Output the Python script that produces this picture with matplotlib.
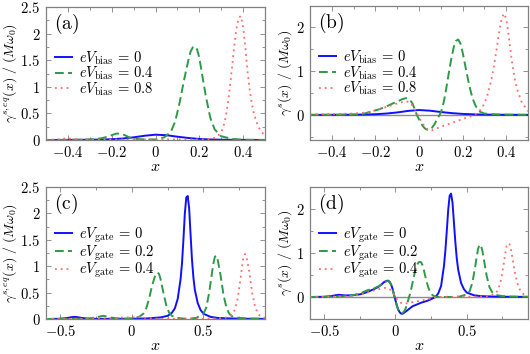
import matplotlib
matplotlib.use("Agg")
import matplotlib.pyplot as plt
from matplotlib.ticker import MultipleLocator, FuncFormatter

plt.rcParams['mathtext.fontset'] = 'cm'
plt.rcParams['font.family'] = ['DejaVu Serif']

# ---------------- panel (a): equilibrium, bias ----------------
a_blue_x = [-0.5, -0.4, -0.3, -0.25, -0.2, -0.15, -0.1, -0.05, 0.0, 0.05, 0.1, 0.15, 0.2, 0.25, 0.3, 0.4, 0.5]
a_blue_y = [0.0, 0.002, 0.005, 0.008, 0.015, 0.028, 0.05, 0.08, 0.1, 0.09, 0.062, 0.038, 0.02, 0.01, 0.005, 0.002, 0.001]

a_green_x = [-0.5, -0.4, -0.3, -0.25, -0.22, -0.2, -0.18, -0.16, -0.14, -0.12, -0.1, -0.05, 0.0, 0.04, 0.07,
             0.09, 0.11, 0.13, 0.15, 0.16, 0.17, 0.18, 0.19, 0.2, 0.21, 0.23, 0.25, 0.27, 0.3, 0.35, 0.4, 0.5]
a_green_y = [0.0, 0.003, 0.01, 0.03, 0.06, 0.09, 0.12, 0.12, 0.09, 0.05, 0.025, 0.01, 0.01, 0.05, 0.15,
             0.35, 0.7, 1.12, 1.5, 1.66, 1.74, 1.76, 1.7, 1.55, 1.3, 0.82, 0.42, 0.2, 0.07, 0.02, 0.005, 0.0]

a_red_x = [-0.5, -0.45, -0.42, -0.4, -0.38, -0.35, -0.3, -0.2, -0.1, 0.0, 0.1, 0.2, 0.25, 0.28, 0.3, 0.31,
           0.32, 0.33, 0.34, 0.35, 0.36, 0.37, 0.38, 0.39, 0.4, 0.41, 0.42, 0.43, 0.44, 0.45, 0.47, 0.5]
a_red_y = [0.005, 0.01, 0.025, 0.03, 0.02, 0.01, 0.005, 0.01, 0.01, 0.01, 0.01, 0.01, 0.02, 0.05, 0.15, 0.25,
           0.42, 0.68, 1.0, 1.38, 1.78, 2.1, 2.3, 2.33, 2.12, 1.75, 1.3, 0.95, 0.68, 0.48, 0.24, 0.07]

# ---------------- panel (b): non-equilibrium, bias ----------------
b_blue_x = [-0.5, -0.4, -0.3, -0.25, -0.2, -0.15, -0.1, -0.05, 0.0, 0.05, 0.1, 0.15, 0.2, 0.25, 0.3, 0.4, 0.5]
b_blue_y = [0.0, 0.002, 0.005, 0.008, 0.015, 0.03, 0.055, 0.09, 0.11, 0.095, 0.065, 0.04, 0.022, 0.012, 0.006, 0.002, 0.001]

b_green_x = [-0.5, -0.4, -0.3, -0.26, -0.235, -0.21, -0.18, -0.15, -0.12, -0.1, -0.08, -0.06, -0.05, -0.04,
             -0.03, -0.02, -0.01, 0.0, 0.01, 0.02, 0.03, 0.04, 0.05, 0.06, 0.07, 0.08, 0.09, 0.1, 0.11, 0.12,
             0.13, 0.14, 0.15, 0.16, 0.17, 0.18, 0.19, 0.2, 0.21, 0.22, 0.23, 0.24, 0.25, 0.26, 0.28, 0.3,
             0.35, 0.4, 0.5]
b_green_y = [0.0, 0.0, 0.005, 0.02, 0.05, 0.09, 0.13, 0.19, 0.26, 0.3, 0.35, 0.38, 0.37, 0.33,
             0.26, 0.13, 0.0, -0.1, -0.2, -0.27, -0.32, -0.34, -0.33, -0.29, -0.22, -0.13, -0.04, 0.05, 0.22, 0.45,
             0.75, 1.05, 1.32, 1.55, 1.68, 1.71, 1.62, 1.42, 1.17, 0.92, 0.68, 0.48, 0.32, 0.2, 0.07, 0.03,
             0.01, 0.005, 0.0]

b_red_x = [-0.5, -0.4, -0.3, -0.25, -0.2, -0.15, -0.1, -0.06, -0.04, -0.02, 0.0, 0.02, 0.04, 0.05, 0.06, 0.08,
           0.1, 0.14, 0.18, 0.22, 0.25, 0.27, 0.29, 0.31, 0.33, 0.34, 0.35, 0.36, 0.37, 0.38, 0.39, 0.4, 0.41,
           0.42, 0.43, 0.44, 0.45, 0.47, 0.5]
b_red_y = [0.01, 0.02, 0.03, 0.05, 0.1, 0.18, 0.26, 0.31, 0.28, 0.14, -0.06, -0.22, -0.33, -0.36, -0.35, -0.31,
           -0.27, -0.2, -0.13, -0.06, -0.01, 0.05, 0.16, 0.38, 0.75, 1.0, 1.3, 1.62, 1.95, 2.2, 2.3, 2.18, 1.85,
           1.45, 1.08, 0.8, 0.58, 0.3, 0.08]

# ---------------- panel (c): equilibrium, gate ----------------
c_blue_x = [-0.6, -0.5, -0.45, -0.42, -0.4, -0.38, -0.35, -0.3, -0.2, -0.1, 0.0, 0.1, 0.2, 0.25, 0.28, 0.3,
            0.32, 0.34, 0.35, 0.36, 0.37, 0.38, 0.39, 0.4, 0.41, 0.42, 0.43, 0.44, 0.46, 0.48, 0.5, 0.55, 0.6,
            0.7, 0.8, 0.93]
c_blue_y = [0.0, 0.005, 0.02, 0.035, 0.04, 0.035, 0.02, 0.005, 0.003, 0.005, 0.005, 0.01, 0.03, 0.06, 0.12, 0.2,
            0.38, 0.75, 1.05, 1.5, 2.0, 2.3, 2.33, 2.1, 1.6, 1.12, 0.78, 0.55, 0.3, 0.17, 0.1, 0.04, 0.02,
            0.01, 0.005, 0.003]

c_green_x = [-0.6, -0.5, -0.4, -0.3, -0.25, -0.22, -0.2, -0.18, -0.15, -0.1, -0.05, 0.0, 0.05, 0.08, 0.1, 0.12,
             0.14, 0.16, 0.17, 0.18, 0.19, 0.2, 0.22, 0.24, 0.26, 0.28, 0.3, 0.35, 0.4, 0.45, 0.5, 0.52, 0.54,
             0.56, 0.57, 0.58, 0.59, 0.6, 0.62, 0.64, 0.66, 0.68, 0.7, 0.75, 0.8, 0.93]
c_green_y = [0.0, 0.003, 0.005, 0.01, 0.03, 0.05, 0.06, 0.05, 0.03, 0.01, 0.005, 0.01, 0.04, 0.1, 0.2, 0.38,
             0.62, 0.8, 0.86, 0.88, 0.85, 0.76, 0.5, 0.26, 0.12, 0.06, 0.03, 0.01, 0.005, 0.02, 0.1, 0.22, 0.5,
             0.88, 1.06, 1.18, 1.2, 1.12, 0.82, 0.46, 0.22, 0.1, 0.05, 0.02, 0.01, 0.005]

c_red_x = [-0.6, -0.4, -0.3, -0.2, -0.1, -0.05, 0.0, 0.05, 0.1, 0.15, 0.2, 0.3, 0.4, 0.5, 0.6, 0.65, 0.7, 0.72,
           0.74, 0.76, 0.77, 0.78, 0.79, 0.8, 0.82, 0.84, 0.86, 0.88, 0.9, 0.93]
c_red_y = [0.0, 0.003, 0.005, 0.01, 0.02, 0.03, 0.03, 0.035, 0.02, 0.01, 0.005, 0.005, 0.005, 0.005, 0.01, 0.02,
           0.08, 0.18, 0.4, 0.78, 1.0, 1.18, 1.23, 1.18, 0.9, 0.5, 0.24, 0.1, 0.05, 0.02]

# ---------------- panel (d): non-equilibrium, gate ----------------
d_blue_x = [-0.6, -0.5, -0.45, -0.42, -0.4, -0.38, -0.35, -0.3, -0.25, -0.2, -0.15, -0.12, -0.1, -0.08, -0.06,
            -0.05, -0.04, -0.03, -0.02, -0.01, 0.0, 0.01, 0.02, 0.03, 0.04, 0.05, 0.06, 0.08, 0.1, 0.12, 0.15,
            0.18, 0.2, 0.22, 0.25, 0.28, 0.3, 0.32, 0.34, 0.35, 0.36, 0.37, 0.38, 0.39, 0.4, 0.41, 0.42, 0.43,
            0.44, 0.46, 0.48, 0.5, 0.55, 0.6, 0.7, 0.8, 0.93]
d_blue_y = [0.0, 0.005, 0.02, 0.04, 0.05, 0.045, 0.035, 0.04, 0.06, 0.11, 0.18, 0.23, 0.28, 0.34, 0.37,
            0.37, 0.34, 0.28, 0.18, 0.05, -0.08, -0.2, -0.29, -0.35, -0.38, -0.38, -0.36, -0.31, -0.26, -0.21, -0.17,
            -0.13, -0.11, -0.09, -0.05, 0.0, 0.08, 0.25, 0.7, 1.05, 1.5, 1.98, 2.3, 2.35, 2.15, 1.7, 1.25, 0.88,
            0.62, 0.32, 0.18, 0.1, 0.04, 0.02, 0.01, 0.005, 0.003]

d_green_x = [-0.6, -0.5, -0.4, -0.35, -0.3, -0.25, -0.2, -0.15, -0.12, -0.1, -0.08, -0.06, -0.05, -0.04, -0.03,
             -0.02, -0.01, 0.0, 0.01, 0.02, 0.03, 0.04, 0.05, 0.06, 0.07, 0.08, 0.09, 0.1, 0.11, 0.12, 0.13, 0.14,
             0.15, 0.16, 0.17, 0.18, 0.19, 0.2, 0.21, 0.22, 0.23, 0.24, 0.26, 0.28, 0.3, 0.4, 0.45, 0.5, 0.52,
             0.54, 0.56, 0.57, 0.58, 0.59, 0.6, 0.61, 0.62, 0.64, 0.66, 0.68, 0.7, 0.75, 0.8, 0.93]
d_green_y = [0.0, 0.005, 0.01, 0.02, 0.04, 0.08, 0.15, 0.2, 0.24, 0.28, 0.33, 0.36, 0.36, 0.33, 0.27,
             0.17, 0.04, -0.09, -0.21, -0.3, -0.35, -0.37, -0.36, -0.33, -0.27, -0.18, -0.06, 0.05, 0.18, 0.33, 0.48, 0.62,
             0.72, 0.78, 0.8, 0.79, 0.72, 0.6, 0.46, 0.33, 0.22, 0.13, 0.04, 0.01, 0.0, 0.0, 0.01, 0.06, 0.13,
             0.33, 0.7, 0.92, 1.1, 1.19, 1.17, 1.05, 0.86, 0.48, 0.22, 0.1, 0.05, 0.02, 0.01, 0.003]

d_red_x = [-0.6, -0.5, -0.4, -0.35, -0.3, -0.25, -0.2, -0.15, -0.1, -0.07, -0.05, -0.03, -0.01, 0.01, 0.03, 0.05,
           0.07, 0.1, 0.15, 0.2, 0.25, 0.3, 0.4, 0.5, 0.6, 0.65, 0.7, 0.72, 0.74, 0.76, 0.77, 0.78, 0.79, 0.8,
           0.81, 0.82, 0.84, 0.86, 0.88, 0.9, 0.93]
d_red_y = [0.0, 0.003, 0.01, 0.015, 0.025, 0.05, 0.1, 0.15, 0.19, 0.21, 0.2, 0.15, 0.05, -0.05, -0.12, -0.15,
           -0.15, -0.13, -0.1, -0.07, -0.03, 0.0, 0.005, 0.005, 0.01, 0.02, 0.07, 0.16, 0.38, 0.76, 0.98, 1.16, 1.22, 1.2,
           1.08, 0.9, 0.52, 0.26, 0.12, 0.06, 0.03]

bias_labels = [r'$eV_{\rm bias}\,=\,0$', r'$eV_{\rm bias}\,=\,0.4$', r'$eV_{\rm bias}\,=\,0.8$']
gate_labels = [r'$eV_{\rm gate}\,=\,0$', r'$eV_{\rm gate}\,=\,0.2$', r'$eV_{\rm gate}\,=\,0.4$']
panel_tags = ['(a)', '(b)', '(c)', '(d)']

BLUE = '#1010ff'
GREEN = '#2e9a48'
RED = '#ff6b6b'

W, H = 530, 354
fig = plt.figure(figsize=(W / 100, H / 100), dpi=100)


def box(l, r, t, b):
    return [l / W, 1 - b / H, (r - l) / W, (b - t) / H]


axes = [fig.add_axes(box(46, 265, 7, 140)),
        fig.add_axes(box(310, 528, 6, 140)),
        fig.add_axes(box(46, 265, 187, 319)),
        fig.add_axes(box(310, 528, 187, 319))]

data = [
    [(a_blue_x, a_blue_y), (a_green_x, a_green_y), (a_red_x, a_red_y)],
    [(b_blue_x, b_blue_y), (b_green_x, b_green_y), (b_red_x, b_red_y)],
    [(c_blue_x, c_blue_y), (c_green_x, c_green_y), (c_red_x, c_red_y)],
    [(d_blue_x, d_blue_y), (d_green_x, d_green_y), (d_red_x, d_red_y)],
]
xlims = [(-0.5, 0.5), (-0.5, 0.5), (-0.6, 0.93), (-0.6, 0.93)]
ylims = [(0, 2.5), (-0.57, 2.47), (0, 2.5), (-0.5, 2.5)]
ylabels = [r'$\gamma^{s,eq}(x)\ /\ (M\omega_0)$', r'$\gamma^{s}(x)\ /\ (M\omega_0)$',
           r'$\gamma^{s,eq}(x)\ /\ (M\omega_0)$', r'$\gamma^{s}(x)\ /\ (M\omega_0)$']
xmaj = [0.2, 0.2, 0.5, 0.5]
xmin = [0.1, 0.1, 0.25, 0.25]
ymaj = [0.5, 1.0, 0.5, 1.0]
ymin = [0.25, 0.5, 0.25, 0.5]
legend_labels = [bias_labels, bias_labels, gate_labels, gate_labels]

fmt = FuncFormatter(lambda v, p: '$%s$' % ('%g' % round(v, 3)))
styles = [dict(color=BLUE, ls='-', lw=1.4),
          dict(color=GREEN, ls=(0, (4.5, 2.2)), lw=1.4),
          dict(color=RED, ls=(0, (1, 2.2)), lw=1.3)]

for i, ax in enumerate(axes):
    if i in (1, 3):
        ax.axhline(0, color='0.55', lw=1.0, zorder=1)
    for (xs, ys), st, lab in zip(data[i], styles, legend_labels[i]):
        ax.plot(xs, ys, label=lab, zorder=2, **st)
    ax.set_xlim(*xlims[i])
    ax.set_ylim(*ylims[i])
    ax.xaxis.set_major_locator(MultipleLocator(xmaj[i]))
    ax.xaxis.set_minor_locator(MultipleLocator(xmin[i]))
    ax.yaxis.set_major_locator(MultipleLocator(ymaj[i]))
    ax.yaxis.set_minor_locator(MultipleLocator(ymin[i]))
    ax.xaxis.set_major_formatter(fmt)
    ax.yaxis.set_major_formatter(fmt)
    ax.tick_params(which='both', direction='in', top=True, right=True, colors='0.5',
                   labelcolor='black', labelsize=10.5, width=0.6)
    ax.tick_params(which='major', length=3.5, pad=3.5)
    ax.tick_params(which='minor', length=2)
    ax.tick_params(axis='y', which='major', pad=4)
    for s in ax.spines.values():
        s.set_color('0.5')
        s.set_linewidth(0.9)
    ax.set_xlabel('$x$', fontsize=11.5, labelpad=-1)
    ax.set_ylabel(ylabels[i], fontsize=10, labelpad=1)
    ax.text(0.035, 0.96, r'$\mathrm{%s}$' % panel_tags[i], transform=ax.transAxes,
            fontsize=14, va='top', ha='left')
    ax.legend(loc='center left', bbox_to_anchor=(0.0, 0.5), frameon=False, fontsize=10.5,
              handlelength=1.15, handletextpad=0.5, labelspacing=-0.12, borderaxespad=0.2)

fig.savefig('out.png', dpi=100)
